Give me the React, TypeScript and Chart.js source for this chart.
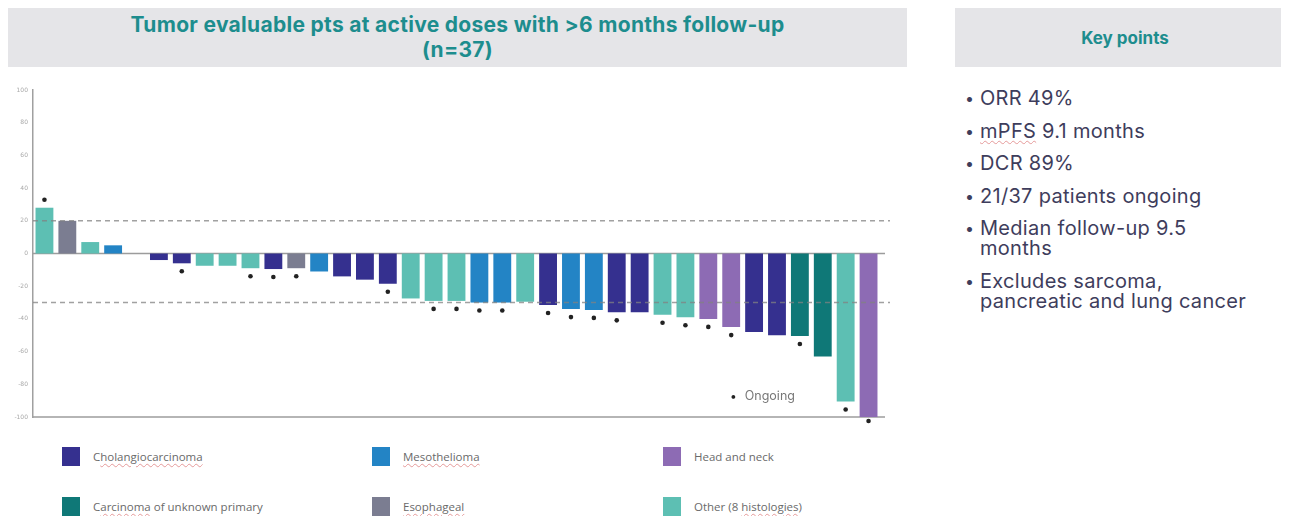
import React, { useEffect, useRef } from "react";
import { Chart, registerables } from "chart.js";

Chart.register(...registerables);

// ---------- data ----------
const patients = [
  "P1", "P2", "P3", "P4", "P5", "P6", "P7", "P8", "P9", "P10",
  "P11", "P12", "P13", "P14", "P15", "P16", "P17", "P18", "P19", "P20",
  "P21", "P22", "P23", "P24", "P25", "P26", "P27", "P28", "P29", "P30",
  "P31", "P32", "P33", "P34", "P35", "P36", "P37",
];

const bestChange = [
  28, 20, 7, 5, 0, -4, -6, -7.5, -7.5, -9,
  -9.5, -9, -11, -14, -16, -18.5, -27.5, -29, -29, -30,
  -30, -29.5, -31.5, -34, -34.5, -36, -36, -37.5, -39, -40,
  -45, -48, -50, -50.5, -63, -90.5, -100,
];

const histology = [
  "Other", "Esophageal", "Other", "Mesothelioma", "Other",
  "Cholangiocarcinoma", "Cholangiocarcinoma", "Other", "Other", "Other",
  "Cholangiocarcinoma", "Esophageal", "Mesothelioma", "Cholangiocarcinoma", "Cholangiocarcinoma",
  "Cholangiocarcinoma", "Other", "Other", "Other", "Mesothelioma",
  "Mesothelioma", "Other", "Cholangiocarcinoma", "Mesothelioma", "Mesothelioma",
  "Cholangiocarcinoma", "Cholangiocarcinoma", "Other", "Other", "Head and neck",
  "Head and neck", "Cholangiocarcinoma", "Cholangiocarcinoma", "CUP", "CUP",
  "Other", "Head and neck",
];

const ongoing = [
  1, 0, 0, 0, 0, 0, 1, 0, 0, 1,
  1, 1, 0, 0, 0, 1, 0, 1, 1, 1,
  1, 0, 1, 1, 1, 1, 0, 1, 1, 1,
  1, 0, 0, 1, 0, 1, 1,
];

const thresholdLines = [20, -30];

const histologyColors: Record<string, string> = {
  Cholangiocarcinoma: "#35308f",
  Mesothelioma: "#2384c5",
  "Head and neck": "#8d6bb4",
  CUP: "#0f7877",
  Esophageal: "#7b7d91",
  Other: "#5dbfb3",
};

const keyPoints = [
  ["ORR 49%"],
  ["mPFS 9.1 months"],
  ["DCR 89%"],
  ["21/37 patients ongoing"],
  ["Median follow-up 9.5", "months"],
  ["Excludes sarcoma,", "pancreatic and lung cancer"],
];

// ---------- plugin ----------
const refLinePlugin = {
  id: "refLines",
  beforeDatasetsDraw(chart: any) {
    const { ctx, chartArea, scales } = chart;
    const y = scales.y;
    ctx.save();
    ctx.strokeStyle = "#9c9c9c";
    ctx.lineWidth = 1.5;
    [0, -100].forEach((v) => {
      const py = y.getPixelForValue(v);
      ctx.beginPath();
      ctx.moveTo(chartArea.left, py);
      ctx.lineTo(chartArea.right + 5, py);
      ctx.stroke();
    });
    ctx.restore();
  },
  afterDatasetsDraw(chart: any) {
    const { ctx, chartArea, scales } = chart;
    const y = scales.y;
    ctx.save();
    ctx.strokeStyle = "rgba(130,130,130,0.75)";
    ctx.lineWidth = 1.5;
    ctx.setLineDash([5, 4]);
    thresholdLines.forEach((v) => {
      const py = y.getPixelForValue(v);
      ctx.beginPath();
      ctx.moveTo(chartArea.left, py);
      ctx.lineTo(chartArea.right + 10, py);
      ctx.stroke();
    });
    ctx.setLineDash([]);
    // ongoing markers at the end of each bar
    const meta = chart.getDatasetMeta(0);
    ctx.fillStyle = "#222";
    meta.data.forEach((bar: any, i: number) => {
      if (!ongoing[i]) return;
      const up = bestChange[i] >= 0;
      const py = up ? bar.y - 8 : bar.y + (bestChange[i] <= -100 ? 4 : 8);
      ctx.beginPath();
      ctx.arc(bar.x, py, 2.3, 0, Math.PI * 2);
      ctx.fill();
    });
    ctx.restore();
  },
};

function WaterfallChart() {
  const ref = useRef<HTMLCanvasElement | null>(null);
  useEffect(() => {
    if (!ref.current) return;
    const chart = new Chart(ref.current, {
      type: "bar",
      data: {
        labels: patients,
        datasets: [
          {
            data: bestChange,
            backgroundColor: histology.map((h) => histologyColors[h]),
            barPercentage: 0.78,
            categoryPercentage: 1,
          },
        ],
      },
      options: {
        animation: false,
        responsive: false,
        maintainAspectRatio: false,
        layout: { padding: { top: 10, bottom: 13, right: 15, left: 0 } },
        plugins: { legend: { display: false }, tooltip: { enabled: false } },
        scales: {
          x: { display: false },
          y: {
            min: -100,
            max: 100,
            afterFit: (scale: any) => {
              scale.width = 25;
            },
            ticks: {
              stepSize: 20,
              color: "#a8a8a8",
              font: { size: 6, family: "DejaVu Sans" },
              padding: 5,
            },
            grid: { display: false, drawTicks: false },
            border: { color: "#a0a0a0", width: 1.5 },
          },
        },
      },
      plugins: [refLinePlugin],
    });
    return () => chart.destroy();
  }, []);
  return <canvas ref={ref} width={887} height={350} style={{ display: "block" }} />;
}

const spell: React.CSSProperties = {
  textDecoration: "underline wavy #e59a9a",
  textDecorationThickness: "1px",
  textUnderlineOffset: "2px",
};

const legendItems = [
  { key: "Cholangiocarcinoma", x: 54, y: 439, label: <><span>C</span><span style={spell}>holangiocarcinoma</span></> },
  { key: "Mesothelioma", x: 364, y: 439, label: <span style={spell}>Mesothelioma</span> },
  { key: "Head and neck", x: 655, y: 439, label: <span>Head and neck</span> },
  { key: "CUP", x: 54, y: 489, label: <><span>C</span><span style={spell}>arcinoma</span><span> of unknown primary</span></> },
  { key: "Esophageal", x: 364, y: 489, label: <span style={spell}>Esophageal</span> },
  { key: "Other", x: 655, y: 489, label: <><span>Other (8 </span><span style={spell}>histologies</span><span>)</span></> },
];

export default function App() {
  return (
    <div
      style={{
        position: "relative",
        width: 1273,
        height: 508,
        overflow: "hidden",
        fontFamily: "'Open Sans', 'Noto Sans', sans-serif",
      }}
    >
      {/* title box */}
      <div
        style={{
          position: "absolute",
          left: 0,
          top: 0,
          width: 899,
          height: 59,
          background: "#e5e5e8",
          color: "#1d8d8e",
          fontFamily: "Inter, sans-serif",
          fontWeight: 700,
          fontSize: 21,
          letterSpacing: "0.3px",
          lineHeight: "25px",
          textAlign: "center",
          paddingTop: 4,
          boxSizing: "border-box",
        }}
      >
        Tumor evaluable pts at active doses with &gt;6 months follow-up
        <br />
        (n=37)
      </div>
      {/* key points box */}
      <div
        style={{
          position: "absolute",
          left: 947,
          top: 0,
          width: 340,
          height: 59,
          background: "#e5e5e8",
          color: "#1d8d8e",
          fontFamily: "Inter, sans-serif",
          fontWeight: 700,
          fontSize: 17,
          lineHeight: "60px",
          textAlign: "center",
        }}
      >
        Key points
      </div>

      {/* chart */}
      <div style={{ position: "absolute", left: 0, top: 72 }}>
        <WaterfallChart />
      </div>

      {/* ongoing legend */}
      <div
        style={{
          position: "absolute",
          left: 722,
          top: 380,
          fontFamily: "Inter, sans-serif",
          fontSize: 12.5,
          color: "#777",
          lineHeight: "16px",
          whiteSpace: "nowrap",
        }}
      >
        <span style={{ color: "#222", fontSize: 12, marginRight: 8 }}>•</span>Ongoing
      </div>

      {/* category legend */}
      {legendItems.map((it) => (
        <div key={it.key} style={{ position: "absolute", left: it.x, top: it.y, height: 20 }}>
          <div
            style={{
              position: "absolute",
              left: 0,
              top: 0,
              width: 18,
              height: 19,
              background: histologyColors[it.key],
            }}
          />
          <div
            style={{
              position: "absolute",
              left: 31,
              top: 1,
              fontSize: 11.5,
              color: "#6a6a6a",
              lineHeight: "18px",
              whiteSpace: "nowrap",
            }}
          >
            {it.label}
          </div>
        </div>
      ))}

      {/* key points list */}
      <div
        style={{
          position: "absolute",
          left: 957,
          top: 80,
          color: "#3e3d5c",
          fontFamily: "Inter, sans-serif",
          fontSize: 20,
          letterSpacing: "0.3px",
        }}
      >
        {keyPoints.map((lines, i) => (
          <div
            key={i}
            style={{ position: "relative", marginBottom: 12.5, lineHeight: "20px", whiteSpace: "nowrap" }}
          >
            <span style={{ position: "absolute", left: 0, top: 0, fontSize: 16 }}>•</span>
            <div style={{ marginLeft: 15 }}>
              {lines.map((l, j) => (
                <div key={j}>
                  {i === 1 && j === 0 ? (
                    <>
                      <span style={spell}>mPFS</span>
                      {l.slice(4)}
                    </>
                  ) : (
                    l
                  )}
                </div>
              ))}
            </div>
          </div>
        ))}
      </div>
    </div>
  );
}
